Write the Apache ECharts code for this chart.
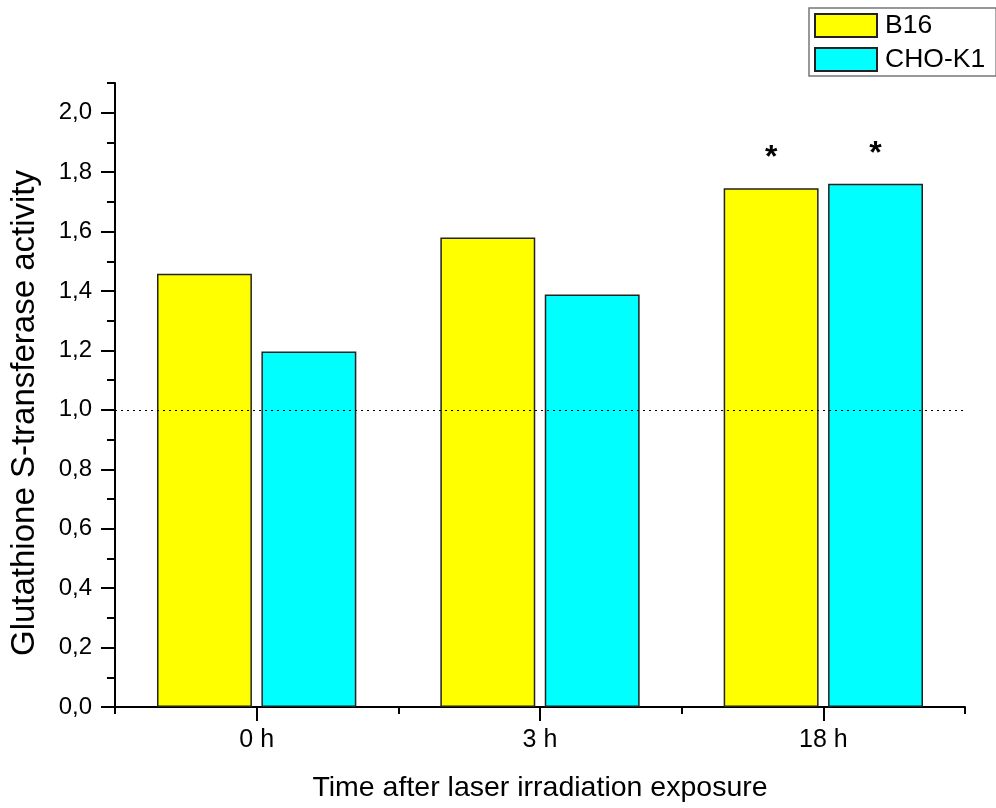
<!DOCTYPE html>
<html>
<head>
<meta charset="utf-8">
<script src="https://cdn.jsdelivr.net/npm/echarts@6/dist/echarts.min.js"></script>
<style>html,body{margin:0;padding:0;background:#fff}#c{width:996px;height:808px}</style>
</head>
<body>
<div id="c"></div>
<script>
var categories = ['0 h', '3 h', '18 h'];
var b16 = [1.458, 1.580, 1.746];
var chok1 = [1.196, 1.388, 1.761];
var b16Sig = ['', '', '*'];
var chok1Sig = ['', '', '*'];
var majorTicks = [0, 0.2, 0.4, 0.6, 0.8, 1.0, 1.2, 1.4, 1.6, 1.8, 2.0];
var referenceLine = 1.0;

var FONT = 'Liberation Sans, Arial, sans-serif';
var chart = echarts.init(document.getElementById('c'));

function fmt(v) { return v.toFixed(1).replace('.', ','); }

chart.setOption({
  animation: false,
  backgroundColor: '#fff',
  grid: { left: 114.5, right: 31, top: 83, bottom: 99, containLabel: false },
  legend: {
    left: 809, top: 8,
    orient: 'vertical',
    padding: [4, 11, 3, 5],
    itemWidth: 62, itemHeight: 23, itemGap: 7,
    borderColor: '#777', borderWidth: 1.5,
    icon: 'rect',
    textStyle: { fontFamily: FONT, fontSize: 26.5, lineHeight: 23, color: '#000', padding: [0, 0, 0, 3] },
    data: ['B16', 'CHO-K1']
  },
  xAxis: [{
    type: 'category', data: categories,
    axisLine: { lineStyle: { color: '#000', width: 2 } },
    axisTick: { show: true, alignWithLabel: true, length: 14, inside: false, lineStyle: { color: '#000', width: 2 } },
    axisLabel: { fontFamily: FONT, fontSize: 25, color: '#000', margin: 21 },
    name: 'Time after laser irradiation exposure',
    nameLocation: 'middle', nameGap: 67,
    nameTextStyle: { fontFamily: FONT, fontSize: 28.5, color: '#000' }
  }, {
    type: 'category', data: categories, position: 'bottom',
    axisLine: { show: false },
    axisTick: { show: true, alignWithLabel: false, length: 7, lineStyle: { color: '#000', width: 2 } },
    axisLabel: { show: false }
  }],
  yAxis: [{
    type: 'value', min: 0, max: 2.1, interval: 0.2,
    axisLine: { show: true, lineStyle: { color: '#000', width: 2 } },
    splitLine: { show: false },
    axisTick: { show: true, length: 14, lineStyle: { color: '#000', width: 2 }, customValues: majorTicks },
    axisLabel: { fontFamily: FONT, fontSize: 24, color: '#000', margin: 23, customValues: majorTicks,
      formatter: function (v) { return fmt(v); } },
    name: 'Glutathione S-transferase activity',
    nameLocation: 'middle', nameGap: 74,
    nameTextStyle: { fontFamily: FONT, fontSize: 33, color: '#000', padding: [0, 36, 0, 0] }
  }, {
    type: 'value', min: 0, max: 2.1, interval: 0.1, position: 'left',
    axisLine: { show: false },
    splitLine: { show: false },
    axisTick: { show: true, length: 8, lineStyle: { color: '#000', width: 2 } },
    axisLabel: { show: false }
  }],
  series: [{
    name: 'B16', type: 'bar', data: b16,
    barWidth: '33.5%', barGap: '10%',
    itemStyle: { color: '#ffff00', borderColor: '#222', borderWidth: 1.5 },
    label: { show: true, position: 'top', distance: 14, fontFamily: FONT, fontSize: 32, fontWeight: 'bold', color: '#000',
      formatter: function (p) { return b16Sig[p.dataIndex]; } },
    markLine: {
      silent: true, symbol: 'none', label: { show: false },
      lineStyle: { color: '#000', type: [2, 4], width: 1.2 },
      data: [{ yAxis: referenceLine }]
    }
  }, {
    name: 'CHO-K1', type: 'bar', data: chok1,
    barWidth: '33.5%', barGap: '10%',
    itemStyle: { color: '#00ffff', borderColor: '#222', borderWidth: 1.5 },
    label: { show: true, position: 'top', distance: 14, fontFamily: FONT, fontSize: 32, fontWeight: 'bold', color: '#000',
      formatter: function (p) { return chok1Sig[p.dataIndex]; } }
  }]
});
</script>
</body>
</html>
